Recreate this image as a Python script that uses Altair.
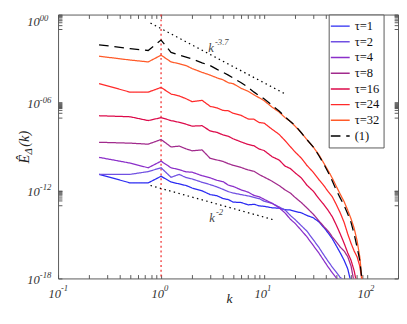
import altair as alt
import pandas as pd

# ---------------- data ----------------
k_vals = [0.25, 0.5, 0.75, 1, 1.25, 1.5, 1.75, 2, 2.5, 3, 3.5, 4, 4.5, 5, 6, 7, 8, 9, 10,
          12, 14, 16, 18, 20, 23, 26, 30, 34, 38, 42, 46, 50, 55, 60, 65, 70, 75, 80, 85, 90]

# log10 of E_Delta(k)
tau1 = [-10.90, -11.48, -11.48, -11.03, -11.42, -11.55, -11.66, -11.83, -12.02, -12.28, -12.36, -12.55,
        -12.62, -12.79, -12.82, -12.98, -12.94, -13.05, -13.08, -13.18, -13.21, -13.31, -13.33, -13.43,
        -13.52, -13.70, -13.86, -14.13, -14.52, -14.90, -15.29, -15.74, -16.26, -16.77, -17.35, -18.3,
        None, None, None, None]
tau2 = [-10.90, -10.90, -10.71, -10.45, -11.10, -10.90, -11.12, -11.21, -11.44, -11.60, -11.76, -11.92,
        -12.08, -12.17, -12.28, -12.37, -12.47, -12.56, -12.73, -12.88, -13.12, -13.33, -13.70, -13.98,
        -14.40, -14.76, -15.35, -15.87, -16.39, -16.84, -17.23, -17.55, -17.94, -18.13, -18.58,
        None, None, None, None, None]
tau4 = [-9.74, -10.13, -10.45, -10.00, -10.45, -10.58, -10.73, -10.75, -10.99, -11.14, -11.31, -11.40,
        -11.63, -11.72, -11.96, -12.11, -12.34, -12.43, -12.60, -12.88, -13.18, -13.53, -13.96, -14.24,
        -14.72, -15.15, -15.74, -16.26, -16.77, -17.23, -17.61, -17.94, -18.45,
        None, None, None, None, None, None, None]
tau8 = [-8.71, -8.77, -8.84, -8.52, -9.03, -8.97, -9.16, -9.29, -9.23, -9.81, -9.92, -10.02, -10.17,
        -10.28, -10.43, -10.60, -10.69, -10.92, -11.08, -11.37, -11.66, -11.96, -12.17, -12.47, -12.82,
        -13.18, -13.61, -14.06, -14.45, -14.77, -15.16, -15.48, -15.87, -16.13, -16.52, -17.16, -18.3,
        None, None, None]
tau16 = [-6.90, -6.97, -7.23, -7.03, -7.23, -7.35, -7.48, -7.61, -7.58, -7.94, -8.04, -8.21, -8.30,
         -8.47, -8.69, -8.86, -8.95, -9.18, -9.27, -9.70, -9.92, -10.34, -10.50, -10.79, -11.14, -11.63,
         -12.04, -12.54, -12.95, -13.37, -13.79, -14.32, -14.97, -15.61, -16.26, -16.77, -17.48, -18.45,
         None, None]
tau24 = [-4.71, -5.29, -5.29, -4.97, -5.42, -5.55, -5.74, -5.94, -5.85, -6.26, -6.37, -6.54, -6.56,
         -6.73, -6.88, -7.12, -7.14, -7.37, -7.40, -7.83, -8.17, -8.60, -9.01, -9.37, -9.79, -10.28,
         -10.75, -11.25, -11.66, -12.08, -12.43, -12.92, -13.53, -14.19, -14.97, -15.61, -16.13, -16.52,
         -17.16, -18.3]
tau32 = [-2.84, -3.10, -3.23, -2.77, -3.23, -3.35, -3.48, -3.68, -3.94, -4.13, -4.32, -4.45, -4.65,
         -4.71, -5.03, -5.23, -5.48, -5.68, -5.87, -6.32, -6.65, -7.03, -7.29, -7.61, -8.06, -8.52,
         -9.03, -9.55, -10.13, -10.65, -11.16, -11.68, -12.26, -12.77, -13.35, -13.94, -14.58, -15.42,
         -16.52, -18.3]
model1 = [-2.06, -2.32, -2.45, -1.74, -2.58, -2.77, -2.90, -3.03, -3.29, -3.48, -3.74, -3.94, -4.13,
          -4.32, -4.65, -4.97, -5.29, -5.55, -5.74, -6.19, -6.58, -6.97, -7.29, -7.55, -8.06, -8.52,
          -9.03, -9.61, -10.19, -10.77, -11.35, -11.94, -12.52, -13.03, -13.61, -14.19, -14.97, -15.87,
          -16.77, -18.3]

series_names = ["τ=1", "τ=2", "τ=4", "τ=8", "τ=16", "τ=24", "τ=32", "(1)"]
series_vals = [tau1, tau2, tau4, tau8, tau16, tau24, tau32, model1]
series_colors = ["#2a2af2", "#7050e2", "#8b2fc9", "#a12a8c", "#dc0a4a", "#ff2a2a", "#ff5a28", "#000000"]
series_dash = [[1, 0]] * 7 + [[10, 6]]

# reference power laws (end points)
ref_names = ["k^-3.7", "k^-3.7", "k^-2", "k^-2"]
ref_k = [0.79, 15.7, 0.79, 12.7]
ref_logE = [-0.58, -5.38, -11.66, -14.02]

annot_k = [3.06, 3.13]
annot_logE = [-2.26, -13.87]
annot_sup = ["-3.7", "-2"]

# tick labels: base and exponent
x_major = [0.1, 1, 10, 100]
x_major_exp = ["-1", "0", "1", "2"]
x_minor = [0.2, 0.3, 0.4, 0.5, 0.6, 0.7, 0.8, 0.9, 2, 3, 4, 5, 6, 7, 8, 9,
           20, 30, 40, 50, 60, 70, 80, 90, 200]
y_major = [1, 1e-06, 1e-12, 1e-18]
y_major_exp = ["00", "-06", "-12", "-18"]
y_minor_mult = [0.9, 0.8, 0.7, 0.6, 0.5, 0.4, 0.3, 0.2, 0.1]

# ---------------- tables ----------------
rows = []
for name, vals in zip(series_names, series_vals):
    for k, v in zip(k_vals, vals):
        if v is not None:
            rows.append({"series": name, "k": k, "E": 10 ** v})
df = pd.DataFrame(rows)

df_ref = pd.DataFrame({"name": ref_names, "k": ref_k, "E": [10 ** v for v in ref_logE]})
df_annot = pd.DataFrame({"k": annot_k, "E": [10 ** v for v in annot_logE], "sup": annot_sup})
df_rule = pd.DataFrame({"k": [1]})
df_xlab = pd.DataFrame({"v": x_major, "exp": x_major_exp})
df_ylab_top = pd.DataFrame({"v": y_major[:1], "exp": y_major_exp[:1]})
df_ylab = pd.DataFrame({"v": y_major[1:], "exp": y_major_exp[1:]})
dummy = pd.DataFrame({"t": [0]})

x_ticks = x_major + x_minor
y_ticks = list(y_major) + [m * M for M in y_major[:3] for m in y_minor_mult]

W, H = 353, 274
FONT = "Liberation Serif"
TICK = "#555555"
LAB = "#333333"

xscale = alt.Scale(type="log", domain=[0.1, 200], nice=False)
yscale = alt.Scale(type="log", domain=[1e-18, 1], nice=False)

def tick_axis(orient, values):
    return alt.Axis(orient=orient, values=values, labels=False, offset=-4, tickSize=4,
                    domain=False, grid=False, tickColor=TICK, title=None)

legend = alt.Legend(title=None, orient="none", legendX=281, legendY=0,
                    symbolType="M-1.4,0H1.4", symbolSize=196, symbolStrokeWidth=1.5,
                    labelFont=FONT, labelFontSize=13, labelColor="#111", labelOffset=7,
                    rowPadding=1.3, padding=4, strokeColor="#555", fillColor="white",
                    labelLimit=80)

lines = alt.Chart(df).mark_line(clip=True, strokeWidth=1.3).encode(
    x=alt.X("k:Q", scale=xscale, axis=tick_axis("bottom", x_ticks)),
    y=alt.Y("E:Q", scale=yscale, axis=tick_axis("left", y_ticks)),
    color=alt.Color("series:N", scale=alt.Scale(domain=series_names, range=series_colors),
                    sort=series_names, legend=legend),
    strokeDash=alt.StrokeDash("series:N", scale=alt.Scale(domain=series_names, range=series_dash),
                              sort=series_names, legend=legend),
)

ref = alt.Chart(df_ref).mark_line(color="black", strokeDash=[1.5, 3.5], strokeWidth=1.3, clip=True).encode(
    x=alt.X("k:Q", scale=xscale, axis=tick_axis("top", x_ticks)),
    y=alt.Y("E:Q", scale=yscale, axis=tick_axis("right", y_ticks)),
    detail="name:N",
)

rule = alt.Chart(df_rule).mark_rule(color="#f03030", strokeDash=[2, 3], strokeWidth=1.3).encode(
    x=alt.X("k:Q", scale=xscale, axis=None)
)

annot_main = alt.Chart(df_annot).mark_text(text="k", font=FONT, fontStyle="italic", fontSize=13,
                                           color="#444").encode(
    x=alt.X("k:Q", scale=xscale, axis=None), y=alt.Y("E:Q", scale=yscale, axis=None))
annot_sup_l = alt.Chart(df_annot).mark_text(font=FONT, fontStyle="italic", fontSize=9, color="#444",
                                            align="left", dx=4, dy=-6).encode(
    x=alt.X("k:Q", scale=xscale, axis=None), y=alt.Y("E:Q", scale=yscale, axis=None), text="sup:N")

# x tick labels "10" + raised exponent
xlab_base = alt.Chart(df_xlab).mark_text(text="10", font=FONT, fontStyle="italic", fontSize=13,
                                         color=LAB, align="right", dx=3).encode(
    x=alt.X("v:Q", scale=xscale, axis=None), y=alt.value(H + 16))
xlab_exp = alt.Chart(df_xlab).mark_text(font=FONT, fontStyle="italic", fontSize=9,
                                        color=LAB, align="left", dx=3).encode(
    x=alt.X("v:Q", scale=xscale, axis=None), y=alt.value(H + 10), text="exp:N")

# y tick labels
ylab_base = alt.Chart(df_ylab).mark_text(text="10", font=FONT, fontStyle="italic", fontSize=13,
                                         color=LAB, align="right", dy=2).encode(
    x=alt.value(-19), y=alt.Y("v:Q", scale=yscale, axis=None))
ylab_exp = alt.Chart(df_ylab).mark_text(font=FONT, fontStyle="italic", fontSize=9,
                                        color=LAB, align="left", dy=-3).encode(
    x=alt.value(-19), y=alt.Y("v:Q", scale=yscale, axis=None), text="exp:N")
ylab_base_top = alt.Chart(df_ylab_top).mark_text(text="10", font=FONT, fontStyle="italic", fontSize=13,
                                                 color=LAB, align="right", baseline="top", dy=2).encode(
    x=alt.value(-19), y=alt.Y("v:Q", scale=yscale, axis=None))
ylab_exp_top = alt.Chart(df_ylab_top).mark_text(font=FONT, fontStyle="italic", fontSize=9,
                                                color=LAB, align="left", baseline="top", dy=0).encode(
    x=alt.value(-19), y=alt.Y("v:Q", scale=yscale, axis=None), text="exp:N")

xtitle = alt.Chart(dummy).mark_text(text="k", font=FONT, fontStyle="italic", fontSize=14,
                                    color="#222").encode(x=alt.value(178), y=alt.value(H + 22))

ytitle_a = alt.Chart(dummy).mark_text(text="Ê", angle=270, font=FONT, fontStyle="italic", fontSize=15,
                                      color="#222").encode(x=alt.value(-35), y=alt.value(150))
ytitle_b = alt.Chart(dummy).mark_text(text="Δ", angle=270, font=FONT, fontStyle="italic", fontSize=11,
                                      color="#222").encode(x=alt.value(-30), y=alt.value(142))
ytitle_c = alt.Chart(dummy).mark_text(text="(k)", angle=270, font=FONT, fontStyle="italic", fontSize=15,
                                      color="#222").encode(x=alt.value(-35), y=alt.value(129))

chart = alt.layer(
    rule, ref, lines, annot_main, annot_sup_l,
    xlab_base, xlab_exp, ylab_base, ylab_exp, ylab_base_top, ylab_exp_top,
    xtitle, ytitle_a, ytitle_b, ytitle_c,
).resolve_axis(
    x="independent", y="independent"
).properties(
    width=W, height=H,
    padding={"left": 10, "top": 0, "right": 0, "bottom": 0},
).configure_view(stroke="#555555", strokeWidth=1)

chart.save("out.html", embed_options={"renderer": "svg", "actions": False})
